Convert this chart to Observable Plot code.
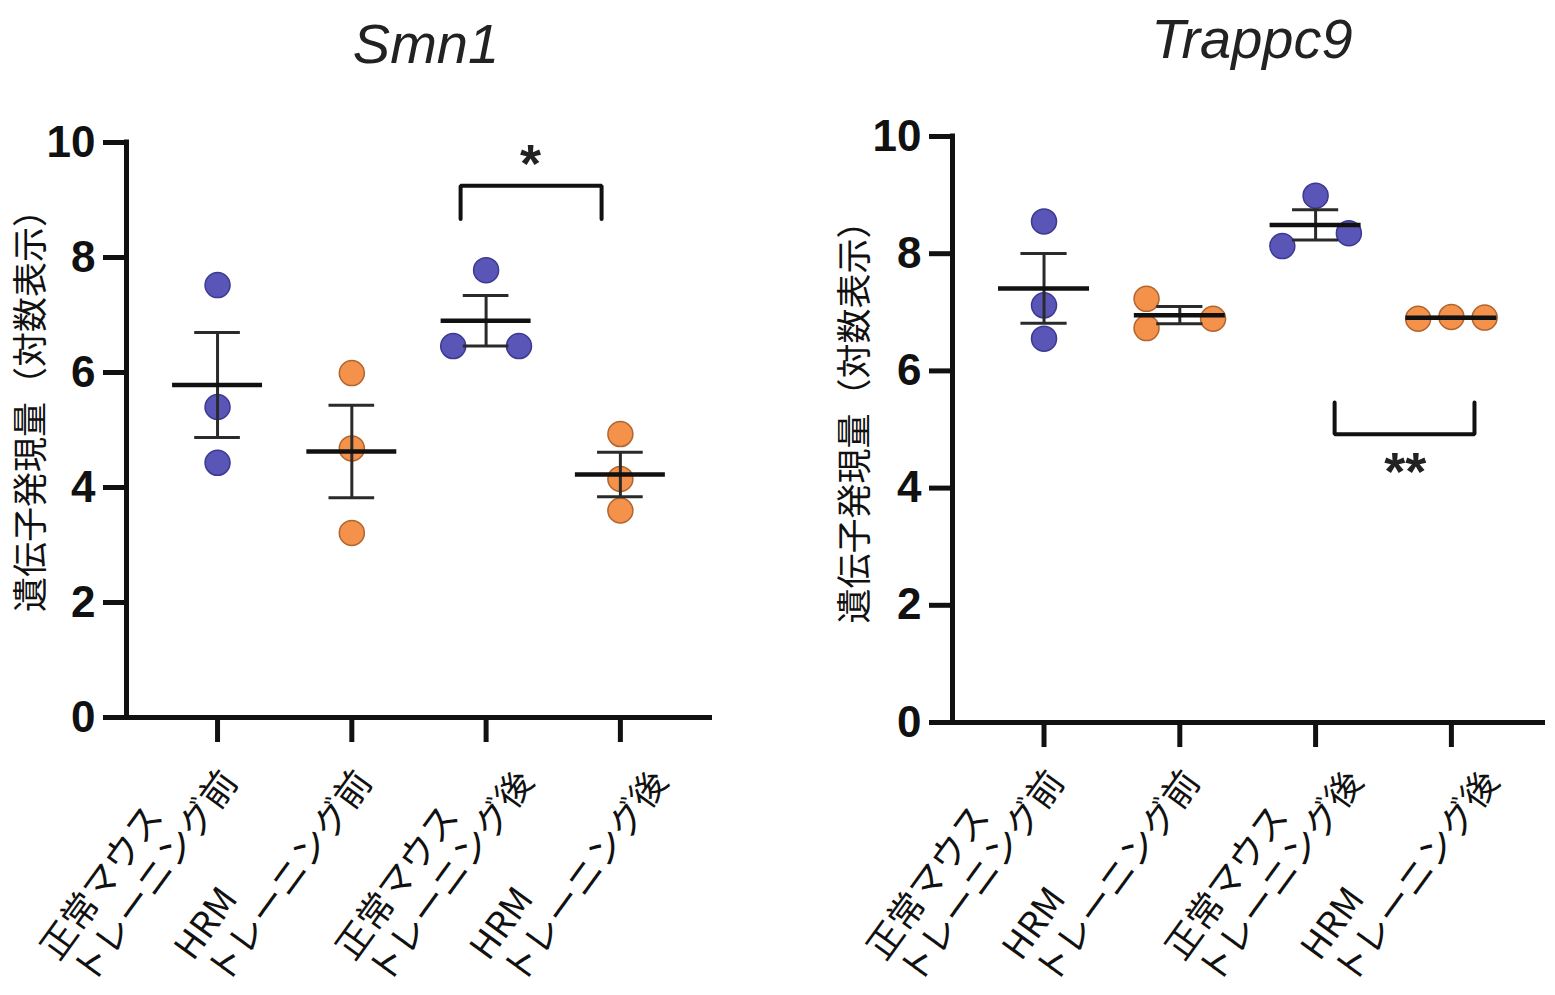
<!DOCTYPE html>
<html><head><meta charset="utf-8">
<script src="https://cdn.jsdelivr.net/npm/d3@7"></script>
<script src="https://cdn.jsdelivr.net/npm/@observablehq/plot@0.6"></script>
<style>
body{margin:0;background:#fff;}
#wrap{position:relative;width:1555px;height:995px;overflow:hidden;background:#fff;}
.panel{position:absolute;top:0;}
.title{position:absolute;font-family:"Liberation Sans",Arial,sans-serif;font-style:italic;font-size:56px;line-height:56px;color:#222;white-space:nowrap;transform:translateX(-50%);}
</style></head>
<body><div id="wrap"></div>
<script>
// ---- data ----
const groupLabels = ["正常マウス\nトレーニング前", "HRM\nトレーニング前", "正常マウス\nトレーニング後", "HRM\nトレーニング後"];
const groupKind = ["normal", "hrm", "normal", "hrm"];
const groupPhase = ["before", "before", "after", "after"];
const yTicks = [0, 2, 4, 6, 8, 10];
const yLabelText = "遺伝子発現量（対数表示）";

const pointGroup = [0,0,0, 1,1,1, 2,2,2, 3,3,3];
const smn1Values = [7.52,5.40,4.43, 5.99,4.68,3.21, 7.78,6.46,6.46, 4.93,4.15,3.60];
const smn1Slots  = [0,0,0, 0,0,0, 0,-1,1, 0,0,0];
const trappc9Values = [8.55,7.12,6.55, 7.23,6.73,6.89, 8.99,8.13,8.35, 6.89,6.92,6.91];
const trappc9Slots  = [0,0,0, -1,-1,1, 0,-1,1, -1,0,1];

const smn1Bracket = {from: 1.81, to: 2.86, bar: 9.25, leg: 8.67, label: "*", labelX: 2.33, labelY: 9.8};
const trappc9Bracket = {from: 2.14, to: 3.17, bar: 4.92, leg: 5.46, label: "**", labelX: 2.66, labelY: 4.45};

// ---- style ----
const spread = 0.245, meanHalf = 0.335, capHalf = 0.17;
const CJK = "'Noto Sans CJK JP', 'Noto Sans', sans-serif";
const LAT = "'Liberation Sans', Arial, Helvetica, sans-serif";
const kindFill = {normal: "#5a56b8", hrm: "#f4914a"};
const kindStroke = {normal: "#3c3990", hrm: "#b0642e"};
const labelDx = {before: -182, after: -155};

function panel(o) {
  const pts = o.values.map((v, i) => ({g: pointGroup[i], v, x: pointGroup[i] + o.slots[i] * spread, kind: groupKind[pointGroup[i]]}));
  const stats = groupLabels.map((_, g) => {
    const vs = pts.filter(p => p.g === g).map(p => p.v);
    const m = d3.mean(vs), se = d3.deviation(vs) / Math.sqrt(vs.length);
    return {g, m, lo: m - se, hi: m + se};
  });
  const labels = groupLabels.map((label, g) => ({g, label, phase: groupPhase[g]}));
  const b = o.bracket;
  const bracketPts = [{x: b.from, y: b.leg}, {x: b.from, y: b.bar}, {x: b.to, y: b.bar}, {x: b.to, y: b.leg}];
  const labelMark = (phase) => Plot.text(labels.filter(d => d.phase === phase), {
    x: "g", text: "label", frameAnchor: "bottom", rotate: -54, textAnchor: "start", lineAnchor: "top",
    lineHeight: 1.12, fontSize: 36, fontFamily: CJK, fill: "#111", dx: labelDx[phase], dy: o.labelDy, ariaLabel: "x-label"});
  const svg = Plot.plot({
    width: o.width, height: 995,
    marginLeft: o.marginLeft, marginRight: o.marginRight, marginTop: o.marginTop, marginBottom: o.marginBottom,
    x: {domain: o.xDomain, axis: null},
    y: {domain: [0, 10], axis: null},
    style: {background: "transparent", overflow: "visible", color: "#111"},
    marks: [
      Plot.axisY(yTicks, {tickSize: 23, strokeWidth: 5, stroke: "#111", fill: "#111", fontSize: 44, fontWeight: "bold", fontFamily: LAT, tickPadding: 8, tickFormat: d3.format("d"), label: null}),
      Plot.axisX(groupLabels.map((_, g) => g), {tickSize: 25, strokeWidth: 5, stroke: "#111", tickFormat: () => "", label: null}),
      Plot.ruleY([0], {stroke: "#111", strokeWidth: 5}),
      Plot.ruleX([o.xDomain[0]], {y1: 0, y2: 10, stroke: "#111", strokeWidth: 5, strokeLinecap: "square"}),
      Plot.text([yLabelText], {text: d => d, frameAnchor: "left", textAnchor: "middle", dx: o.yLabelDx, dy: o.yLabelDy, rotate: -90, fontSize: 35, fontFamily: CJK, fill: "#111"}),
      labelMark("before"),
      labelMark("after"),
      Plot.dot(pts.filter(p => p.kind === "normal"), {x: "x", y: "v", r: 12.5, fill: kindFill.normal, stroke: kindStroke.normal, strokeWidth: 1.5}),
      Plot.dot(pts.filter(p => p.kind === "hrm"), {x: "x", y: "v", r: 12.5, fill: kindFill.hrm, stroke: kindStroke.hrm, strokeWidth: 1.5}),
      Plot.ruleX(stats, {x: "g", y1: "lo", y2: "hi", stroke: "#2a2a2a", strokeWidth: 3}),
      Plot.ruleY(stats, {y: "hi", x1: d => d.g - capHalf, x2: d => d.g + capHalf, stroke: "#2a2a2a", strokeWidth: 3}),
      Plot.ruleY(stats, {y: "lo", x1: d => d.g - capHalf, x2: d => d.g + capHalf, stroke: "#2a2a2a", strokeWidth: 3}),
      Plot.ruleY(stats, {y: "m", x1: d => d.g - meanHalf, x2: d => d.g + meanHalf, stroke: "#111", strokeWidth: 4.5}),
      Plot.line(bracketPts, {x: "x", y: "y", stroke: "#111", strokeWidth: 4, strokeLinejoin: "miter"}),
      Plot.text([b], {x: "labelX", y: "labelY", text: "label", fontSize: 54, fontWeight: "bold", fontFamily: LAT, fill: "#222", lineAnchor: "middle", dy: 11})
    ]
  });
  d3.select(svg).selectAll('g[aria-label="x-label"] text').style("letter-spacing", "3px");
  return svg;
}

const wrap = document.getElementById("wrap");
function place(node, left) {
  const d = document.createElement("div");
  d.className = "panel"; d.style.left = left + "px";
  d.appendChild(node); wrap.appendChild(d);
}
place(panel({values: smn1Values, slots: smn1Slots, bracket: smn1Bracket, width: 777,
  marginLeft: 126, marginRight: 65, marginTop: 142, marginBottom: 278,
  xDomain: [-0.678, 3.686], yLabelDx: -95, yLabelDy: -28, labelDy: 228}), 0);
place(panel({values: trappc9Values, slots: trappc9Slots, bracket: trappc9Bracket, width: 778,
  marginLeft: 175, marginRight: 10, marginTop: 136, marginBottom: 273,
  xDomain: [-0.674, 3.693], yLabelDx: -97, yLabelDy: -16, labelDy: 223}), 777);

function title(text, cx, top) {
  const t = document.createElement("div");
  t.className = "title"; t.textContent = text;
  t.style.left = cx + "px"; t.style.top = top + "px";
  wrap.appendChild(t);
}
title("Smn1", 426, 16);
title("Trappc9", 1252, 11);
</script>
</body></html>
